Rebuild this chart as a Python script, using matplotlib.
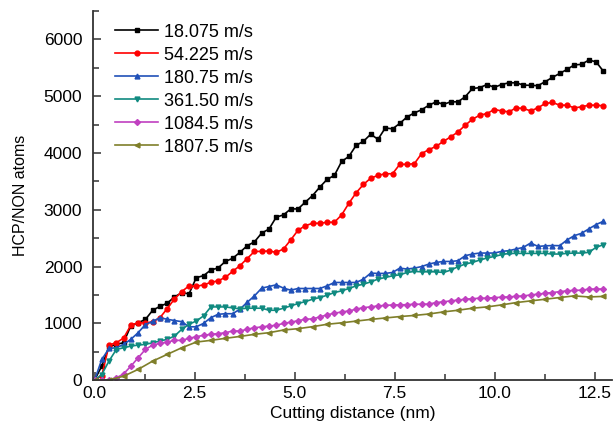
import numpy as np
import matplotlib
matplotlib.use('Agg')
import matplotlib.pyplot as plt
from matplotlib.ticker import MultipleLocator

plt.rcParams['font.family'] = ['Liberation Sans', 'DejaVu Sans']

# cutting distance (nm), one sample every ~0.18 nm
step = 0.1817
x = np.arange(71) * step
x_olive = x[::2]

v18075 = [0, 250, 590, 630, 660, 960, 1010, 1070, 1230, 1300, 1355, 1465, 1540, 1520,
          1805, 1840, 1940, 1975, 2090, 2145, 2250, 2367, 2435, 2590, 2660, 2870, 2910,
          3015, 3015, 3135, 3250, 3400, 3535, 3605, 3850, 3940, 4135, 4205, 4330, 4240,
          4440, 4425, 4520, 4635, 4705, 4760, 4840, 4900, 4855, 4900, 4900, 4990, 5135,
          5150, 5205, 5155, 5205, 5235, 5235, 5195, 5190, 5185, 5255, 5330, 5400, 5470,
          5550, 5560, 5635, 5605, 5440]
v54225 = [0, 80, 620, 660, 740, 970, 1010, 1010, 1025, 1100, 1260, 1430, 1560, 1660,
          1650, 1680, 1720, 1750, 1810, 1915, 2015, 2140, 2267, 2267, 2275, 2250, 2310,
          2470, 2640, 2720, 2762, 2762, 2780, 2780, 2910, 3116, 3300, 3446, 3557, 3605,
          3634, 3634, 3800, 3800, 3811, 3988, 4059, 4117, 4205, 4282, 4370, 4488, 4594,
          4665, 4694, 4765, 4741, 4723, 4794, 4783, 4741, 4794, 4871, 4889, 4841, 4841,
          4794, 4812, 4841, 4841, 4830]
v18075b = [0, 365, 560, 570, 630, 720, 836, 980, 1035, 1100, 1072, 1050, 1030, 940,
           940, 1000, 1100, 1160, 1170, 1170, 1250, 1370, 1484, 1620, 1649, 1679, 1620,
           1585, 1614, 1614, 1614, 1614, 1661, 1720, 1720, 1720, 1720, 1779, 1885, 1879,
           1880, 1896, 1973, 1956, 1973, 2000, 2044, 2073, 2090, 2090, 2103, 2191, 2221,
           2238, 2238, 2238, 2267, 2280, 2309, 2338, 2415, 2355, 2365, 2370, 2368, 2468,
           2544, 2585, 2663, 2739, 2797]
v36150 = [0, 100, 340, 540, 571, 600, 618, 630, 660, 689, 719, 777, 895, 984, 1042,
          1131, 1290, 1290, 1290, 1273, 1255, 1267, 1267, 1267, 1231, 1231, 1267, 1308,
          1349, 1384, 1425, 1455, 1496, 1543, 1573, 1614, 1661, 1690, 1731, 1779, 1808,
          1837, 1855, 1896, 1914, 1908, 1908, 1908, 1896, 1938, 1997, 2044, 2073, 2115,
          2150, 2179, 2209, 2232, 2232, 2232, 2232, 2232, 2232, 2221, 2221, 2232, 2238,
          2238, 2250, 2338, 2385]
v10845 = [0, 0, 10, 40, 111, 247, 394, 542, 618, 648, 671, 701, 701, 737, 765, 790,
          807, 820, 835, 866, 866, 895, 924, 937, 954, 966, 1001, 1020, 1048, 1072, 1080,
          1113, 1150, 1180, 1200, 1219, 1250, 1278, 1290, 1308, 1315, 1325, 1325, 1330,
          1337, 1337, 1340, 1366, 1380, 1396, 1410, 1425, 1435, 1443, 1443, 1455, 1460,
          1467, 1475, 1484, 1500, 1514, 1530, 1543, 1558, 1573, 1580, 1585, 1602, 1605,
          1605]
v18075c = [0, 5, 70, 190, 336, 454, 571, 671, 701, 737, 770, 807, 836, 883, 907, 942,
           984, 1010, 1040, 1070, 1095, 1120, 1140, 1165, 1202, 1231, 1267, 1290, 1325,
           1366, 1396, 1425, 1455, 1484, 1465, 1475]

labels = ['18.075 m/s', '54.225 m/s', '180.75 m/s', '361.50 m/s', '1084.5 m/s', '1807.5 m/s']
colors = ['#000000', '#ff0000', '#2050b8', '#108a80', '#c040c0', '#7f7f2a']
markers = ['s', 'o', '^', 'v', 'D', '<']

fig = plt.figure(figsize=(6.14, 4.38), dpi=100)
ax = fig.add_axes([0.152, 0.132, 0.845, 0.843])

series = [(x, v18075), (x, v54225), (x, v18075b), (x, v36150), (x, v10845), (x_olive, v18075c)]
for (xs, ys), lab, c, m in zip(series, labels, colors, markers):
    ax.plot(xs, ys, color=c, marker=m, markersize=3.5 if m != 'D' else 3, lw=1.2, label=lab)

ax.set_xlim(-0.03, 12.94)
ax.set_ylim(0, 6500)
ax.xaxis.set_major_locator(MultipleLocator(2.5))
ax.xaxis.set_minor_locator(MultipleLocator(1.25))
ax.yaxis.set_major_locator(MultipleLocator(1000))
ax.yaxis.set_minor_locator(MultipleLocator(500))
ax.set_yticks([0, 1000, 2000, 3000, 4000, 5000, 6000])
ax.xaxis.set_major_formatter(matplotlib.ticker.FormatStrFormatter('%.1f'))

for s in ['top', 'right']:
    ax.spines[s].set_visible(False)
for s in ['left', 'bottom']:
    ax.spines[s].set_color('#333333')
    ax.spines[s].set_linewidth(1.3)

ax.tick_params(which='both', direction='in', color='#333333', width=1.1, labelsize=12.5)
ax.tick_params(which='major', length=6)
ax.tick_params(which='minor', length=4)
ax.tick_params(axis='y', pad=8)
ax.tick_params(axis='x', pad=4)

ax.set_xlabel('Cutting distance (nm)', fontsize=12.5, labelpad=4)
ax.set_ylabel('HCP/NON atoms', fontsize=11.5, labelpad=11)

ax.legend(loc='upper left', bbox_to_anchor=(0.028, 0.985), frameon=False, fontsize=13,
          numpoints=1, handlelength=2.4, handletextpad=0.3, labelspacing=0.33, borderaxespad=0)

fig.savefig('out.png', dpi=100)
